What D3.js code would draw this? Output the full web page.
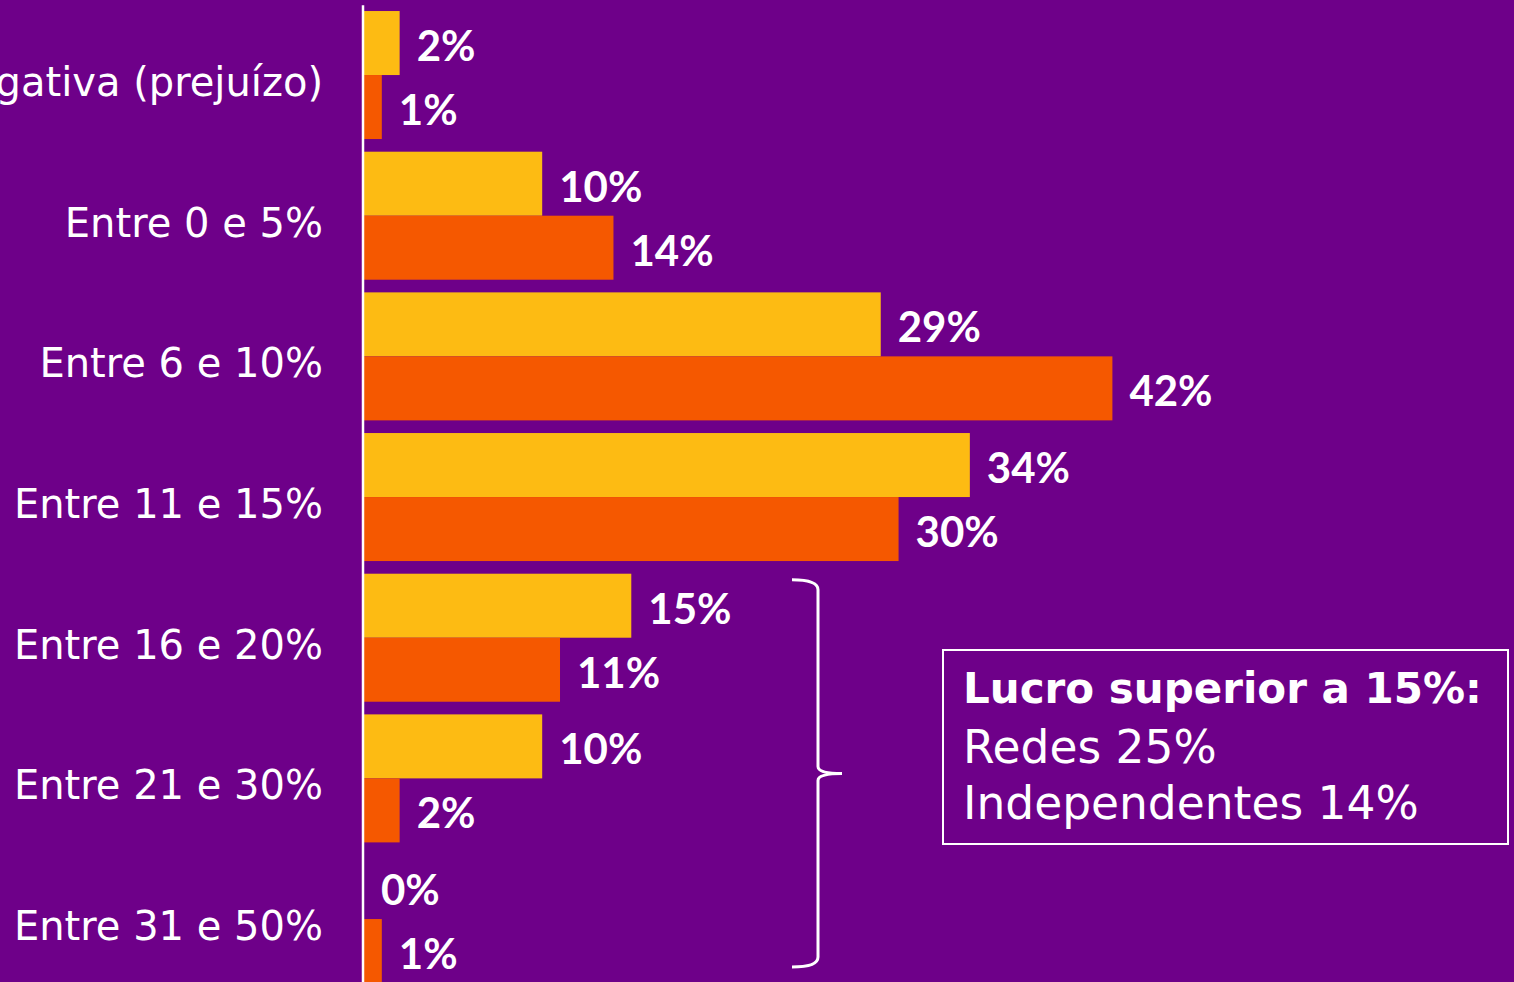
<!DOCTYPE html>
<html>
<head>
<meta charset="utf-8">
<script src="https://cdn.jsdelivr.net/npm/d3@7/dist/d3.min.js"></script>
<style>
  html, body { margin: 0; padding: 0; background: #6E0089; overflow: hidden; }
  svg { display: block; }
</style>
</head>
<body>
<svg id="chart" width="1514" height="982"></svg>
<script>
const categories = ["Margem negativa (prejuízo)", "Entre 0 e 5%", "Entre 6 e 10%", "Entre 11 e 15%", "Entre 16 e 20%", "Entre 21 e 30%", "Entre 31 e 50%"];
const redes = [2, 10, 29, 34, 15, 10, 0];
const independentes = [1, 14, 42, 30, 11, 2, 1];
const boxTitle = "Lucro superior a 15%:";
const boxLines = ["Redes 25%", "Independentes 14%"];

const W = 1514, H = 982;
const colors = { redes: "#FDBB13", independentes: "#F55800", bg: "#6E0089" };

const svg = d3.select("#chart");
svg.append("rect").attr("width", W).attr("height", H).attr("fill", colors.bg);

const x = d3.scaleLinear().domain([0, 42]).range([364, 1112.4]);
const y = d3.scaleBand().domain(categories).range([4.7, 4.7 + 7 * 140.67]).paddingInner(0.09).paddingOuter(0.045);
const sub = d3.scaleBand().domain(["redes", "independentes"]).range([0, y.bandwidth()]);

const rows = categories.map((c, i) => ({ cat: c, redes: redes[i], independentes: independentes[i] }));

const g = svg.append("g");
const groups = g.selectAll("g.row").data(rows).join("g").attr("class", "row")
  .attr("transform", d => `translate(0,${y(d.cat)})`);

["redes", "independentes"].forEach(key => {
  groups.append("rect")
    .attr("x", x(0))
    .attr("y", sub(key))
    .attr("width", d => x(d[key]) - x(0))
    .attr("height", sub.bandwidth())
    .attr("fill", colors[key]);
  groups.append("text")
    .attr("x", d => x(d[key]) + 17)
    .attr("y", sub(key) + sub.bandwidth() / 2 + 18)
    .attr("fill", "#fff")
    .attr("font-family", "Lato, 'Open Sans', sans-serif")
    .attr("font-weight", 700)
    .attr("font-size", 42)
    .text(d => d[key] + "%");
});

// category labels
g.selectAll("text.cat").data(categories).join("text").attr("class", "cat")
  .attr("x", 323)
  .attr("y", d => y(d) + y.bandwidth() / 2 + 21)
  .attr("text-anchor", "end")
  .attr("fill", "#fff")
  .attr("font-family", "'DejaVu Sans', sans-serif")
  .attr("font-size", 40)
  .text(d => d);

// vertical axis line
const axis = d3.axisLeft(y).tickSize(0).tickSizeOuter(0).tickFormat("");
const ax = svg.append("g").attr("transform", `translate(${x(0) - 1.5},0)`).call(axis);
ax.select(".domain").attr("stroke", "#fff").attr("stroke-width", 2.5);

// bracket
const bTop = y(categories[4]) + 6;
const bBot = y(categories[6]) + y.bandwidth() - 16;
const bMid = (bTop + bBot) / 2;
const bx = 818, bl = 792, bt = 842;
svg.append("path")
  .attr("d", `M${bl},${bTop} Q${bx},${bTop} ${bx},${bTop + 10} L${bx},${bMid - 7} Q${bx},${bMid} ${bt},${bMid} Q${bx},${bMid} ${bx},${bMid + 7} L${bx},${bBot - 10} Q${bx},${bBot} ${bl},${bBot}`)
  .attr("fill", "none").attr("stroke", "#fff").attr("stroke-width", 3);

// annotation box
const box = svg.append("g");
box.append("rect").attr("x", 943).attr("y", 650).attr("width", 565).attr("height", 194)
  .attr("fill", "none").attr("stroke", "#fff").attr("stroke-width", 2);
box.append("text").attr("x", 963).attr("y", 703)
  .attr("fill", "#fff").attr("font-family", "'DejaVu Sans', sans-serif").attr("font-weight", 700)
  .attr("font-size", 42).text(boxTitle);
box.selectAll("text.line").data(boxLines).join("text").attr("class", "line")
  .attr("x", 963).attr("y", (d, i) => 763 + i * 56)
  .attr("fill", "#fff").attr("font-family", "'DejaVu Sans', sans-serif")
  .attr("font-size", 45.5).text(d => d);
</script>
</body>
</html>
